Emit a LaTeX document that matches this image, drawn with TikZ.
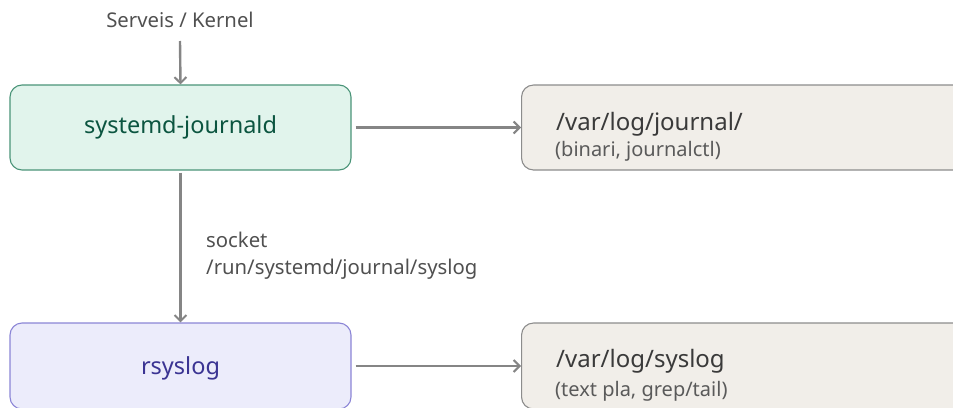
\documentclass[tikz,border=0pt]{standalone}
\usepackage{fontspec}
\setmainfont{Noto Sans}
\usepackage{tikz}
\usetikzlibrary{arrows.meta}
\usetikzlibrary{positioning}
\definecolor{jfill}{HTML}{E1F4EC}
\definecolor{jdraw}{HTML}{4A9478}
\definecolor{jtext}{HTML}{0B5540}
\definecolor{rfill}{HTML}{ECECFB}
\definecolor{rdraw}{HTML}{8B85D6}
\definecolor{rtext}{HTML}{3B3493}
\definecolor{ffill}{HTML}{F1EEE9}
\definecolor{fdraw}{HTML}{8C8C8C}
\definecolor{ftext}{HTML}{3A3A3A}
\definecolor{fsub}{HTML}{5A5A5A}
\definecolor{flow}{HTML}{858585}
\definecolor{lbl}{HTML}{505050}
\tikzset{box/.style={rectangle,rounded corners=12pt,line width=1.1pt,minimum width=341pt,minimum height=85pt,font=\fontsize{23.5}{28}\selectfont}}
\tikzset{
journal/.style={box,fill=jfill,draw=jdraw,text=jtext},
rsys/.style={box,fill=rfill,draw=rdraw,text=rtext,minimum height=86pt,text depth=0pt},
filebox/.style={rectangle,rounded corners=12pt,line width=1.1pt,fill=ffill,draw=fdraw,minimum width=470pt,minimum height=85pt,anchor=west},
path/.style={anchor=base west,inner sep=0pt,text=ftext,font=\fontsize{24}{28}\selectfont},
pathsub/.style={anchor=base west,inner sep=0pt,text=fsub,font=\fontsize{20}{24}\selectfont},
lbltext/.style={inner sep=0pt,text=lbl,font=\fontsize{20.3}{24}\selectfont},
flowarrow/.style={draw=flow,line width=2.4pt,-{Straight Barb[length=6pt,width=12pt,line width=2pt]}}
}

\begin{document}
\begin{tikzpicture}[x=1pt,y=-1pt]

\useasboundingbox (0,0) rectangle (953,407);
\clip (0,0) rectangle (953,407);

\node[lbltext,anchor=base] (src) at (180,27) {Serveis / Kernel};
\coordinate (srcout) at (180,41);
\node[journal] (journald) at (180.5,127.5) {systemd-journald};
\node[rsys] (rsyslog) at (180.5,366) {rsyslog};

\node[filebox] (jfiles) at (521,127.5) {};
\node[path] (jpath) at (556,130) {/var/log/journal/};
\node[pathsub] (jsub) at (555,156) {(binari, journalctl)};

\node[filebox,minimum height=86pt] (sfiles) at (521,366) {};
\node[path] (spath) at (556,367) {/var/log/syslog};
\node[pathsub] (ssub) at (555,396) {(text pla, grep/tail)};

\node[lbltext,anchor=base west] (sock) at (206,247) {socket};
\node[lbltext,anchor=base west] (sockpath) at (206,274) {/run/systemd/journal/syslog};

\draw[flowarrow] (srcout) -- (journald.north);
\draw[flowarrow] (journald.east) ++(4,0) -- (jfiles.west);
\draw[flowarrow] (journald.south) ++(0,2) -- (rsyslog.north);
\draw[flowarrow] (rsyslog.east) ++(4,0) -- (sfiles.west);

\end{tikzpicture}
\end{document}
